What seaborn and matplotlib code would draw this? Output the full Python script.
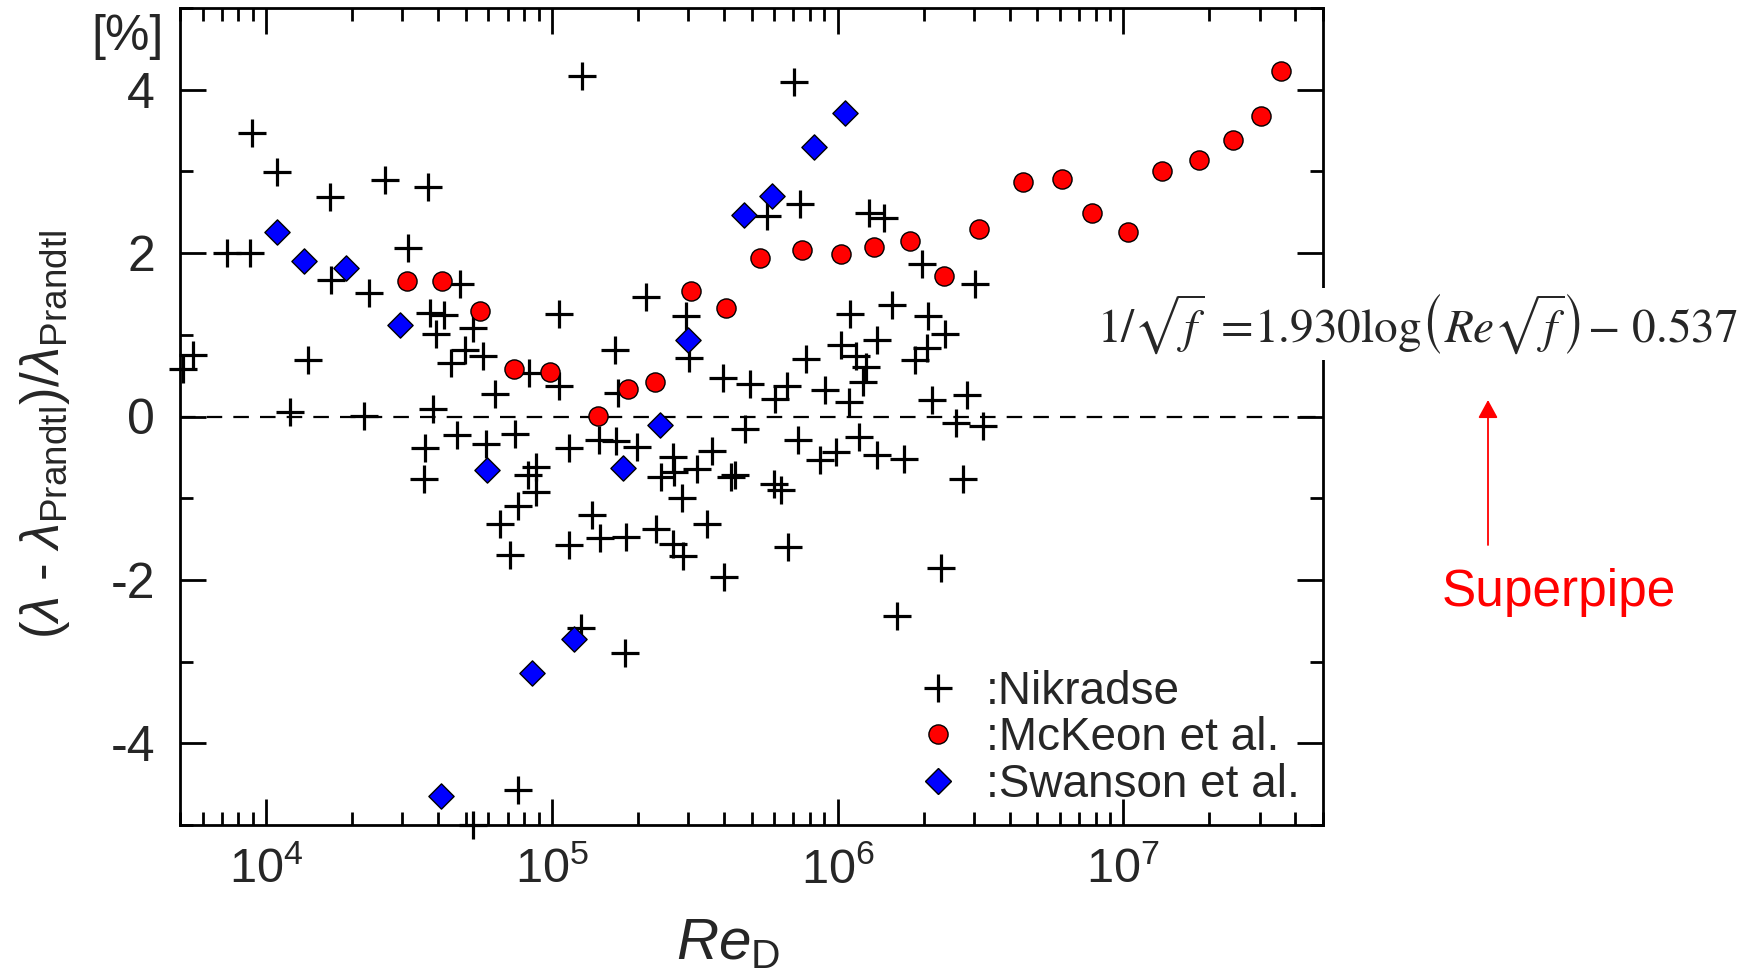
import matplotlib
matplotlib.use("Agg")
import matplotlib.pyplot as plt
import numpy as np
import pandas as pd
import seaborn as sns
from matplotlib.lines import Line2D
from matplotlib.patches import FancyArrowPatch
from matplotlib.ticker import LogLocator, MultipleLocator, NullFormatter, FixedLocator, FixedFormatter

# ---------------- data ----------------
nik_re = [8.93e3, 1.09e4, 1.67e4, 2.60e4, 3.70e4, 7.28e3, 8.81e3, 3.15e4, 1.69e4, 2.30e4,
          4.77e4, 3.74e4, 4.18e4, 3.92e4, 5.30e4, 4.98e4, 5.74e4, 4.44e4, 6.34e4, 8.32e4,
          1.06e5, 1.06e5, 1.40e4, 5.56e3, 5.13e3, 1.21e4, 2.20e4, 3.84e4,
          3.60e4, 4.66e4, 5.90e4, 7.41e4, 3.57e4, 8.83e4, 8.25e4, 8.83e4, 7.60e4, 6.61e4,
          7.12e4, 1.15e5, 1.15e5, 7.60e4, 5.30e4,
          1.28e5, 7.03e5, 7.41e5, 5.65e5, 1.29e6, 1.45e6, 1.98e6, 2.14e5, 2.95e5, 1.66e5,
          1.71e5, 3.01e5, 3.97e5, 4.95e5, 6.03e5, 6.66e5, 7.74e5, 9.03e5, 1.11e6, 1.55e6,
          2.08e6, 2.38e6, 1.03e6, 1.16e6, 1.38e6, 1.26e6, 1.23e6, 2.05e6, 1.87e6, 2.14e6,
          1.10e6,
          4.73e5, 1.46e5, 1.68e5, 1.99e5, 2.66e5, 3.65e5, 3.21e5, 2.41e5, 2.67e5, 4.36e5,
          4.25e5, 2.86e5, 5.99e5, 6.36e5, 7.28e5, 8.70e5, 9.85e5, 1.19e6, 1.37e6, 1.71e6,
          1.38e5, 1.48e5, 1.82e5, 2.32e5, 2.66e5, 2.88e5, 3.49e5, 4.02e5, 6.73e5, 1.27e5,
          1.81e5, 1.61e6, 2.30e6,
          3.03e6, 2.83e6, 2.59e6, 3.24e6, 2.74e6]
nik_dev = [3.47, 2.99, 2.69, 2.89, 2.81, 2.00, 2.00, 2.06, 1.67, 1.51,
           1.62, 1.27, 1.24, 1.01, 1.08, 0.81, 0.74, 0.65, 0.28, 0.53,
           0.37, 1.25, 0.69, 0.75, 0.58, 0.05, 0.01, 0.09,
           -0.38, -0.23, -0.34, -0.21, -0.77, -0.62, -0.72, -0.93, -1.10, -1.32,
           -1.70, -0.38, -1.57, -4.57, -5.00,
           4.17, 4.10, 2.60, 2.45, 2.49, 2.43, 1.87, 1.46, 1.23, 0.81,
           0.29, 0.71, 0.47, 0.40, 0.22, 0.37, 0.70, 0.33, 1.26, 1.37,
           1.23, 1.01, 0.87, 0.74, 0.94, 0.61, 0.42, 0.84, 0.69, 0.20,
           0.18,
           -0.15, -0.29, -0.30, -0.37, -0.50, -0.42, -0.64, -0.74, -0.68, -0.72,
           -0.74, -1.00, -0.83, -0.90, -0.29, -0.53, -0.44, -0.25, -0.47, -0.52,
           -1.21, -1.49, -1.47, -1.38, -1.56, -1.71, -1.32, -1.97, -1.60, -2.59,
           -2.90, -2.44, -1.85,
           1.62, 0.26, -0.08, -0.12, -0.76]

mck_re = [3.12e4, 4.13e4, 5.62e4, 7.36e4, 9.82e4, 1.45e5, 1.85e5, 2.29e5, 3.08e5, 4.08e5,
          5.37e5, 7.52e5, 1.03e6, 1.34e6, 1.79e6, 2.35e6, 3.12e6, 4.46e6, 6.12e6, 7.80e6,
          1.04e7, 1.37e7, 1.84e7, 2.43e7, 3.03e7, 3.57e7]
mck_dev = [1.66, 1.66, 1.29, 0.58, 0.55, 0.01, 0.34, 0.42, 1.53, 1.33,
           1.94, 2.04, 1.99, 2.07, 2.15, 1.72, 2.30, 2.87, 2.91, 2.49,
           2.26, 3.00, 3.14, 3.38, 3.68, 4.23]

swa_re = [1.09e4, 1.36e4, 1.90e4, 2.94e4, 4.10e4, 5.93e4, 8.51e4, 1.20e5, 1.77e5, 2.39e5,
          3.00e5, 4.70e5, 5.90e5, 8.28e5, 1.06e6]
swa_dev = [2.26, 1.90, 1.82, 1.12, -4.64, -0.65, -3.14, -2.72, -0.63, -0.10,
           0.94, 2.47, 2.70, 3.30, 3.72]

series_labels = [":Nikradse", ":McKeon et al.", ":Swanson et al."]
xtick_vals = [1e4, 1e5, 1e6, 1e7]
xtick_labels = [r"$10^{4}$", r"$10^{5}$", r"$10^{6}$", r"$10^{7}$"]
ytick_vals = [-4, -2, 0, 2, 4]

# ---------------- style ----------------
sns.set_theme(style="ticks")
plt.rcParams["font.family"] = ["Liberation Sans", "DejaVu Sans"]
plt.rcParams["mathtext.fontset"] = "custom"
plt.rcParams["mathtext.rm"] = "Liberation Sans"
plt.rcParams["mathtext.it"] = "Liberation Sans:italic"
plt.rcParams["mathtext.bf"] = "Liberation Sans:bold"
plt.rcParams["axes.unicode_minus"] = False

W, H = 1744, 977
fig = plt.figure(figsize=(W / 100, H / 100), dpi=100)
ax = fig.add_axes([180 / W, 1 - 825 / H, (1323 - 180) / W, (825 - 8) / H])

df_n = pd.DataFrame({"Re": nik_re, "dev": nik_dev})
df_m = pd.DataFrame({"Re": mck_re, "dev": mck_dev})
df_s = pd.DataFrame({"Re": swa_re, "dev": swa_dev})

ax.axhline(0, color="black", lw=1.6, ls=(0, (7, 5)), zorder=1)

sns.scatterplot(data=df_n, x="Re", y="dev", marker="+", s=380, color="black",
                linewidth=2.3, ax=ax, clip_on=False, zorder=3, legend=False)
sns.scatterplot(data=df_m, x="Re", y="dev", marker="o", s=190, color="#ff0000",
                edgecolor="black", linewidth=1.0, ax=ax, clip_on=False, zorder=4, legend=False)
sns.scatterplot(data=df_s, x="Re", y="dev", marker="D", s=165, color="#0000ff",
                edgecolor="black", linewidth=1.0, ax=ax, clip_on=False, zorder=5, legend=False)

ax.set_xscale("log")
ax.set_xlim(5e3, 5e7)
ax.set_ylim(-5, 5)

ax.xaxis.set_major_locator(FixedLocator(xtick_vals))
ax.xaxis.set_major_formatter(FixedFormatter(xtick_labels))
ax.xaxis.set_minor_locator(LogLocator(base=10, subs=np.arange(2, 10)))
ax.xaxis.set_minor_formatter(NullFormatter())
ax.yaxis.set_major_locator(FixedLocator(ytick_vals))
ax.yaxis.set_minor_locator(MultipleLocator(1))

for s in ax.spines.values():
    s.set_linewidth(2.0)
    s.set_color("black")

ax.tick_params(which="both", direction="in", top=True, right=True, color="black", width=2.0)
ax.tick_params(which="major", length=18.5)
ax.tick_params(which="minor", length=9.5)
ax.tick_params(axis="x", which="major", labelsize=35, pad=16)
ax.tick_params(axis="y", which="major", labelsize=36, pad=18)

ax.set_xlabel(r"$Re_{\mathrm{D}}$", fontsize=42)
ax.xaxis.set_label_coords(0.4794, -0.112)
ax.set_ylabel(r"($\lambda$ - $\lambda_{\mathrm{Prandtl}}$)/$\lambda_{\mathrm{Prandtl}}$", fontsize=38)
ax.yaxis.set_label_coords(-0.0945, 0.478)

fig.text(128 / W, 1 - 37 / H, "[%]", fontsize=36, ha="center", va="center")

handles = [
    Line2D([], [], marker="+", ls="none", color="black", markersize=19.5, markeredgewidth=2.3),
    Line2D([], [], marker="o", ls="none", markerfacecolor="#ff0000", markeredgecolor="black",
           markersize=13.8, markeredgewidth=1.0),
    Line2D([], [], marker="D", ls="none", markerfacecolor="#0000ff", markeredgecolor="black",
           markersize=12.8, markeredgewidth=1.0),
]
ax.legend(handles, series_labels, loc="upper left", bbox_to_anchor=(915 / W, 1 - 670 / H),
          bbox_transform=fig.transFigure, frameon=False, fontsize=33, handlelength=1.0,
          handletextpad=0.55, labelspacing=0.05, borderpad=0, borderaxespad=0)

eq = r"$1/\sqrt{f}\ =\!1.930\mathrm{log}\left(Re\sqrt{f}\right)\!-\,0.537$"
fig.text(1097 / W, 1 - 342 / H, eq, fontsize=34, math_fontfamily="stix", ha="left",
         va="baseline", bbox=dict(facecolor="white", edgecolor="none", pad=3), zorder=10)

arrow = FancyArrowPatch((1488 / W, 1 - 545 / H), (1488 / W, 1 - 400 / H),
                        transform=fig.transFigure, arrowstyle="-|>,head_length=11,head_width=6",
                        color="#ff0000", lw=1.3, mutation_scale=1, shrinkA=0, shrinkB=0)
fig.add_artist(arrow)
fig.text(1559 / W, 1 - 606 / H, "Superpipe", color="#ff0000", fontsize=37,
         ha="center", va="baseline")

fig.savefig("out.png", dpi=100)
